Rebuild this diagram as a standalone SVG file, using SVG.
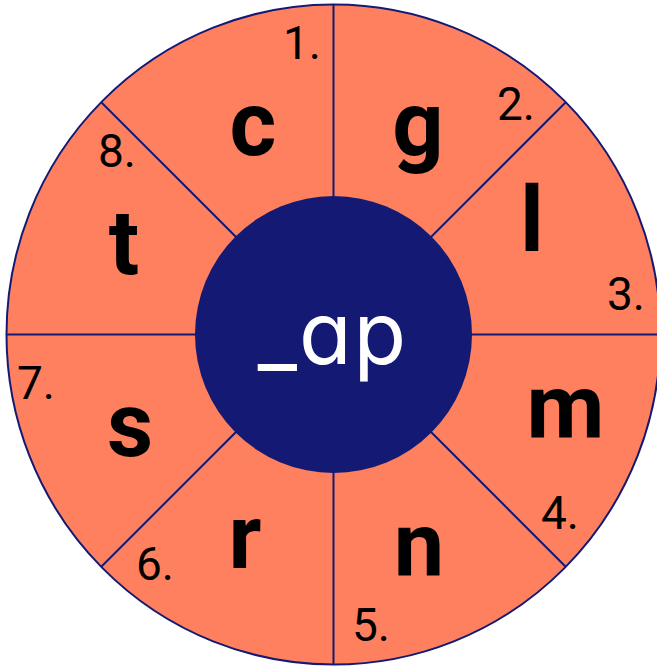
<svg xmlns="http://www.w3.org/2000/svg" width="657" height="670" viewBox="0 0 657 670">
<style>
.seg{fill:#ff805f;stroke:#141a73;stroke-width:2}
.ln{stroke:#141a73;stroke-width:2;fill:none}
.let{font-family:Roboto,"Liberation Sans",sans-serif;font-weight:700;font-size:90px;fill:#000;text-anchor:middle}
.num{font-family:Roboto,"Liberation Sans",sans-serif;font-weight:400;font-size:46px;fill:#000;text-anchor:middle}
.ctr{font-family:Inter,"Noto Sans",sans-serif;font-weight:400;font-size:86px;fill:#fff;text-anchor:middle;font-feature-settings:"cv11" 1;letter-spacing:2px}
</style>
<rect width="657" height="670" fill="#fff"/>
<g id="wheel">
<ellipse class="seg" cx="333.5" cy="334.5" rx="327" ry="330"/>
</g>
<g id="connectors">
<line class="ln" x1="333.5" y1="4.5" x2="333.5" y2="664.5"/>
<line class="ln" x1="6.5" y1="334.5" x2="660" y2="334.5"/>
<line class="ln" x1="101.5" y1="102.5" x2="565.5" y2="566.5"/>
<line class="ln" x1="565.5" y1="102.5" x2="101.5" y2="566.5"/>
</g>
<g id="center">
<circle cx="333.5" cy="334.5" r="138.5" fill="#141a73"/>
<text class="ctr" x="333" y="364">_ap</text>
</g>
<g id="seg1"><text class="let" x="253" y="155">c</text><text class="num" x="302" y="59">1.</text></g>
<g id="seg2"><text class="let" x="418" y="155">g</text><text class="num" x="516" y="120">2.</text></g>
<g id="seg3"><text class="let" x="532" y="251">l</text><text class="num" x="626" y="310">3.</text></g>
<g id="seg4"><text class="let" x="565.5" y="438">m</text><text class="num" x="560" y="529">4.</text></g>
<g id="seg5"><text class="let" x="419" y="576">n</text><text class="num" x="371" y="641">5.</text></g>
<g id="seg6"><text class="let" x="245" y="568">r</text><text class="num" x="155" y="580">6.</text></g>
<g id="seg7"><text class="let" x="130" y="456">s</text><text class="num" x="36" y="399">7.</text></g>
<g id="seg8"><text class="let" x="124" y="274">t</text><text class="num" x="117" y="167">8.</text></g>
</svg>
